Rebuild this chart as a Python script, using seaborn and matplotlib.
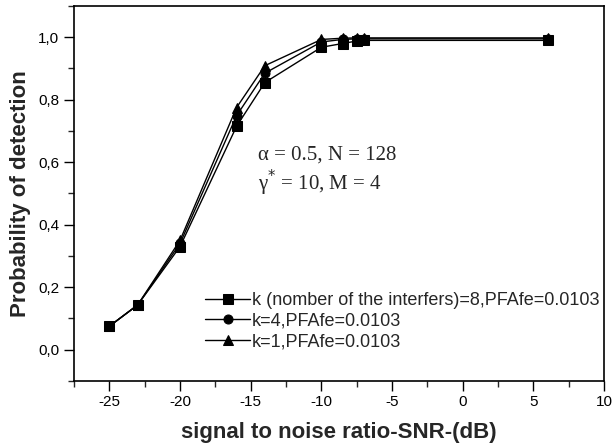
import matplotlib
matplotlib.use("Agg")
import matplotlib.pyplot as plt
import seaborn as sns
import pandas as pd
from matplotlib.ticker import MultipleLocator, FuncFormatter

snr = [-25, -23, -20, -16, -14, -10, -8.5, -7.5, -7, 6]
pd_k8 = [0.075, 0.143, 0.330, 0.715, 0.855, 0.968, 0.980, 0.988, 0.990, 0.990]
pd_k4 = [0.075, 0.143, 0.340, 0.749, 0.885, 0.985, 0.993, 0.995, 0.995, 0.995]
pd_k1 = [0.075, 0.143, 0.350, 0.775, 0.909, 0.993, 0.997, 0.998, 0.998, 0.998]
labels = ["k (nomber of the interfers)=8,PFAfe=0.0103",
          "k=4,PFAfe=0.0103",
          "k=1,PFAfe=0.0103"]
markers = ["s", "o", "^"]

sns.set_style("ticks")
plt.rcParams["font.family"] = ["Liberation Sans", "DejaVu Sans"]

fig = plt.figure(figsize=(6.12, 4.46), dpi=100)
ax = fig.add_axes([0.121, 0.146, 0.866, 0.8405])

for vals, lab, mk in zip([pd_k8, pd_k4, pd_k1], labels, markers):
    df = pd.DataFrame({"snr": snr, "pd": vals})
    sns.lineplot(data=df, x="snr", y="pd", ax=ax, color="black", lw=1.0,
                 marker=mk, markersize=6.5, markeredgecolor="black",
                 markerfacecolor="black", label=lab)

ax.set_xlim(-27.5, 10)
ax.set_ylim(-0.1, 1.1)
ax.xaxis.set_major_locator(MultipleLocator(5))
ax.xaxis.set_minor_locator(MultipleLocator(2.5))
ax.yaxis.set_major_locator(MultipleLocator(0.2))
ax.yaxis.set_minor_locator(MultipleLocator(0.1))
ax.yaxis.set_major_formatter(FuncFormatter(lambda v, p: f"{v:.1f}".replace(".", ",").replace("-0,0", "0,0")))
ax.xaxis.set_major_formatter(FuncFormatter(lambda v, p: f"{v:g}"))
ax.tick_params(which="major", direction="out", length=7, width=1, labelsize=11, colors="black")
ax.tick_params(which="minor", direction="out", length=4, width=1)
for s in ax.spines.values():
    s.set_color("black")
    s.set_linewidth(1.2)

ax.set_xlabel("signal to noise ratio-SNR-(dB)", fontsize=16, fontweight="bold", labelpad=9)
ax.set_ylabel("Probability of detection", fontsize=16, fontweight="bold", labelpad=5)

ax.text(0.347, 0.603, "α = 0.5, N = 128", transform=ax.transAxes,
        fontsize=15, family=["Liberation Serif", "DejaVu Serif"], va="center")
ax.text(0.347, 0.528, r"γ$^{*}$ = 10, M = 4", transform=ax.transAxes,
        fontsize=15, family=["Liberation Serif", "DejaVu Serif"], va="center")

leg = ax.legend(loc="upper left", bbox_to_anchor=(205 / 612, 1 - 292 / 446),
                bbox_transform=fig.transFigure, frameon=False, fontsize=13,
                handlelength=2.5, handletextpad=0.1, labelspacing=0.2,
                borderpad=0, borderaxespad=0)

fig.savefig("out.png", dpi=100)
